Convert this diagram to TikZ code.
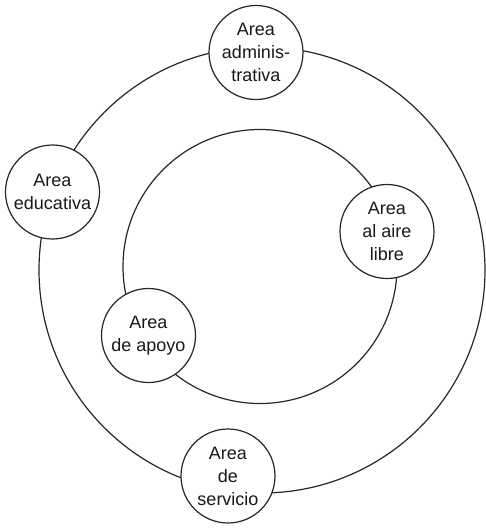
\documentclass[tikz,border=0pt]{standalone}
\usepackage{fontspec}
\setmainfont{Liberation Sans}
\begin{document}
\begin{tikzpicture}[x=1pt,y=-1pt,
  ring/.style={circle, draw=black!85, line width=1.2pt, inner sep=0pt, outer sep=0pt},
  area/.style={circle, draw=black!85, fill=white, line width=1.2pt, inner sep=0pt, minimum size=94pt},
  areatext/.style={align=center, inner sep=0pt, text=black!90, font=\fontsize{18}{23}\selectfont}]
  \useasboundingbox (0,0) rectangle (486,531);
  % zone rings
  \node[ring, minimum size=446pt] (outer) at (262,270) {};
  \node[ring, minimum size=274pt] (inner) at (260,266.5) {};
  % areas on the outer ring
  \node[area, label={[areatext]center:Area\\adminis-\\trativa}] (adm) at (256,52.5) {};
  \node[area, label={[areatext]center:Area\\educativa}] (edu) at (52.5,192) {};
  \node[area, label={[areatext]center:Area\\de\\servicio}] (ser) at (228,476) {};
  % areas on the inner ring
  \node[area, label={[areatext]center:Area\\al aire\\libre}] (aire) at (387,231.5) {};
  \node[area, label={[areatext]center:Area\\de apoyo}] (apo) at (148.5,335.5) {};
\end{tikzpicture}
\end{document}
